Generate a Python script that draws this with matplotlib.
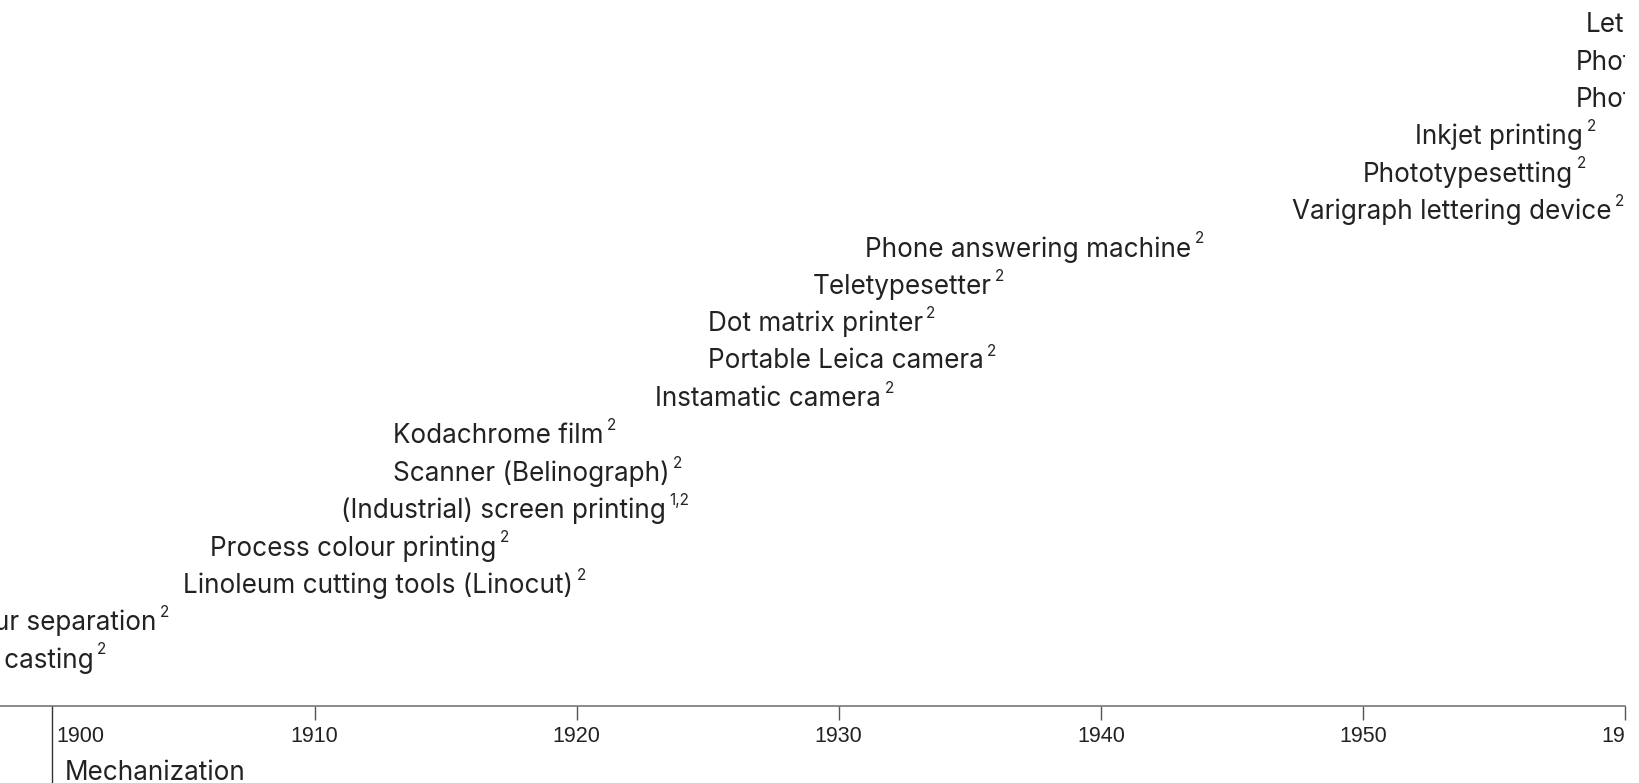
import matplotlib.pyplot as plt
import matplotlib.transforms as mtransforms

plt.rcParams['font.family'] = ['Inter', 'DejaVu Sans']

# inventions, top row first
labels = [
    "Letraset", "Photocopier", "Photolithography",
    "Inkjet printing", "Phototypesetting", "Varigraph lettering device",
    "Phone answering machine", "Teletypesetter", "Dot matrix printer",
    "Portable Leica camera", "Instamatic camera", "Kodachrome film",
    "Scanner (Belinograph)", "(Industrial) screen printing",
    "Process colour printing", "Linoleum cutting tools (Linocut)",
    "Colour separation", "Monotype casting",
]
years = [1958.5, 1958.1, 1958.1, 1952.0, 1950.0, 1947.3,
         1931.0, 1929.0, 1925.0, 1925.0, 1923.0, 1913.0,
         1913.0, 1911.0, 1906.0, 1905.0, 1895.6, 1893.1]
notes = ["2", "2", "2", "2", "2", "2", "2", "2", "2", "2", "2", "2",
         "2", "1,2", "2", "2", "2", "2"]

era_year = 1900
era_name = "Mechanization"
tick_years = [1910, 1920, 1930, 1940, 1950, 1960]

fig = plt.figure(figsize=(16.39, 7.83), dpi=100)
ax = fig.add_axes([0, 0.0989, 0.9915, 0.9011])
ax.set_xlim(1898, 1960)
n = len(labels)
ax.set_ylim(-1.204, n - 1 + 0.67)

txt_color = "#222222"
for i, (lab, yr, note) in enumerate(zip(labels, years, notes)):
    y = n - 1 - i
    t = ax.text(yr, y, lab, fontsize=18.8, color=txt_color, ha="left",
                va="center", clip_on=True)
    ax.annotate(note, xy=(1, 0.9), xycoords=t, xytext=(2.5, 0),
                textcoords="offset points", fontsize=11, color=txt_color,
                ha="left", va="center", annotation_clip=False, clip_on=True)

# axis styling
for s in ["top", "left", "right"]:
    ax.spines[s].set_visible(False)
ax.spines["bottom"].set_color("#777777")
ax.spines["bottom"].set_linewidth(1.2)
ax.set_yticks([])
ax.set_xticks(tick_years)
ax.set_xticklabels([])
ax.tick_params(axis="x", length=10, width=1, color="#555555")

# year labels, clipped at the right end of the axis
xtrans = ax.get_xaxis_transform()
clip = mtransforms.TransformedBbox(mtransforms.Bbox([[0, -1], [1, 1]]),
                                   ax.transAxes)
down = mtransforms.ScaledTranslation(0, -0.31, fig.dpi_scale_trans)
for yr in tick_years:
    t = ax.text(yr, 0, str(yr), transform=xtrans + down, fontsize=15.5,
                family="Liberation Sans", color=txt_color, ha="center",
                va="center", clip_on=True)
    t.set_clip_box(clip)

# era marker below the axis
ax.plot([era_year, era_year], [0, -0.2], transform=xtrans,
        color="#333333", lw=1, clip_on=False)
ax.text(era_year, 0, str(era_year),
        transform=xtrans + mtransforms.ScaledTranslation(
            0.04, -0.31, fig.dpi_scale_trans),
        fontsize=15.5, family="Liberation Sans", color=txt_color,
        ha="left", va="center")
ax.text(era_year, -0.095, era_name,
        transform=xtrans + mtransforms.ScaledTranslation(
            0.12, 0, fig.dpi_scale_trans),
        fontsize=18.8, color=txt_color, ha="left", va="center",
        clip_on=False)

fig.savefig("out.png", dpi=100)
